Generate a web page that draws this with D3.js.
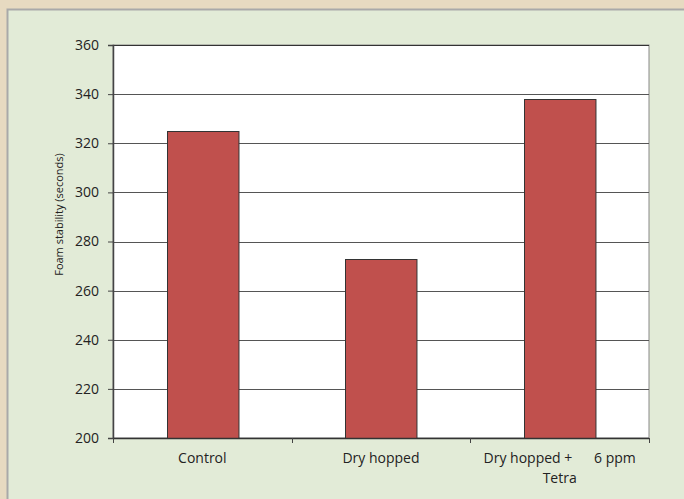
<!DOCTYPE html>
<html>
<head>
<meta charset="utf-8">
<script src="https://cdn.jsdelivr.net/npm/d3@7"></script>
<style>
  html, body { margin: 0; padding: 0; background: #e7dac1; }
  svg { display: block; }
  text { font-family: "Open Sans", sans-serif; fill: #222; }
</style>
</head>
<body>
<svg width="684" height="499"></svg>
<script>
// chart data
var categories = ["Control", "Dry hopped", "Dry hopped +      6 ppm|Tetra"];
var values = [325, 273, 338];
var yTicks = [200, 220, 240, 260, 280, 300, 320, 340, 360];

var margin = {top: 45, right: 35, bottom: 61, left: 113},
    width = 684 - margin.left - margin.right,
    height = 499 - margin.top - margin.bottom;

var root = d3.select("svg");

// green panel with a grey edge on top / left
root.append("rect")
    .attr("x", 7).attr("y", 9)
    .attr("width", 684).attr("height", 499)
    .attr("fill", "#e2ebd7");
root.append("path")
    .attr("d", "M7.5,499V9.5H684")
    .attr("fill", "none")
    .attr("stroke", "#a9a9a9")
    .attr("stroke-width", 2);

var svg = root.append("g")
    .attr("transform", "translate(" + margin.left + "," + margin.top + ")");

var x = d3.scaleBand()
    .domain(categories)
    .range([0, width])
    .paddingInner(0.6)
    .paddingOuter(0.3);

var y = d3.scaleLinear()
    .domain([200, 360])
    .range([height, 0]);

// plot background
svg.append("rect")
    .attr("width", width)
    .attr("height", height)
    .attr("fill", "#fff")
    .attr("stroke", "#888");

// gridlines
svg.append("g")
    .selectAll("line")
    .data(yTicks.slice(1))
    .enter().append("line")
    .attr("x1", 0).attr("x2", width)
    .attr("y1", function(d) { return Math.round(y(d)) + 0.5; })
    .attr("y2", function(d) { return Math.round(y(d)) + 0.5; })
    .attr("stroke", function(d) { return d === 360 ? "#333" : "#555"; })
    .attr("stroke-width", 1);

// bars
svg.append("g")
    .selectAll("rect")
    .data(values)
    .enter().append("rect")
    .attr("x", function(d, i) { return Math.round(x(categories[i])) + 0.5; })
    .attr("y", function(d) { return Math.round(y(d)) + 0.5; })
    .attr("width", x.bandwidth())
    .attr("height", function(d) { return Math.round(height - y(d)); })
    .attr("fill", "#c0504d")
    .attr("stroke", "#333")
    .attr("stroke-width", 1);

// y axis
var yAxis = svg.append("g")
    .call(d3.axisLeft(y).tickValues(yTicks).tickSize(5).tickPadding(9));
yAxis.select(".domain").attr("stroke", "#444").attr("stroke-width", 1.5);
yAxis.selectAll(".tick line").attr("stroke", "#444");
yAxis.selectAll(".tick text")
    .style("font-family", "Open Sans, sans-serif")
    .style("font-size", "14px")
    .attr("fill", "#222");

// x axis line with ticks on category boundaries
var xAxis = svg.append("g")
    .attr("transform", "translate(0," + height + ")");
xAxis.append("line")
    .attr("x1", 0).attr("x2", width)
    .attr("y1", 0.5).attr("y2", 0.5)
    .attr("stroke", "#333").attr("stroke-width", 1.5);
xAxis.selectAll(".bt")
    .data(d3.range(categories.length + 1))
    .enter().append("line")
    .attr("class", "bt")
    .attr("x1", function(i) { return Math.round(i * x.step()) + 0.5; })
    .attr("x2", function(i) { return Math.round(i * x.step()) + 0.5; })
    .attr("y1", 0).attr("y2", 5)
    .attr("stroke", "#444");

// category labels (| splits lines)
var lab = xAxis.selectAll(".lab")
    .data(categories)
    .enter().append("text")
    .attr("class", "lab")
    .attr("text-anchor", "middle")
    .attr("transform", function(d) { return "translate(" + (x(d) + x.bandwidth() / 2) + ",25)"; })
    .style("font-size", "14px")
    .style("white-space", "pre");
lab.selectAll("tspan")
    .data(function(d) { return d.split("|"); })
    .enter().append("tspan")
    .attr("x", 0)
    .attr("dy", function(d, i) { return i ? 20 : 0; })
    .text(function(d) { return d; });

// y axis title
svg.append("text")
    .attr("transform", "translate(-50," + (height / 2 - 27) + ") rotate(-90)")
    .attr("text-anchor", "middle")
    .style("font-size", "11px")
    .text("Foam stability (seconds)");
</script>
</body>
</html>
